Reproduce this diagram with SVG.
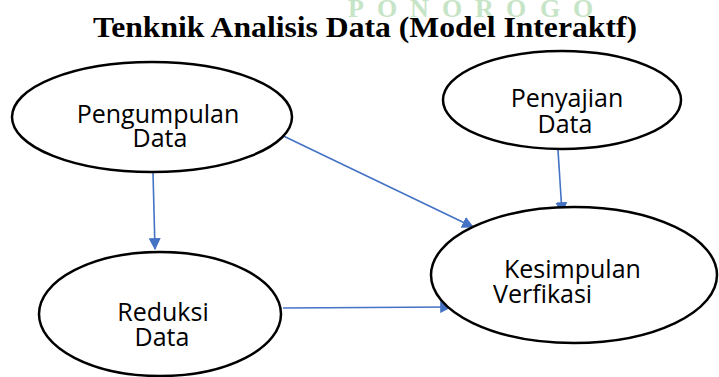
<svg xmlns="http://www.w3.org/2000/svg" width="719" height="377" viewBox="0 0 719 377">
  <style>
    .node ellipse { fill: #ffffff; stroke: #000000; stroke-width: 2.5; }
    .label { font-family: "Open Sans", "Liberation Sans", sans-serif; font-size: 25px; fill: #000000; }
    .edge { stroke: #4472C4; stroke-width: 1.6; fill: none; marker-end: url(#arrow); }
    .title { font-family: "Liberation Serif", "Times New Roman", serif; font-weight: bold; font-size: 30px; fill: #000000; }
    .mark { font-family: "Liberation Serif", "Times New Roman", serif; font-weight: bold; font-size: 26px; fill: #c6e4c6; }
  </style>
  <defs>
    <marker id="arrow" viewBox="0 0 10 10" refX="9" refY="5" markerWidth="12" markerHeight="12" markerUnits="userSpaceOnUse" orient="auto">
      <path d="M0,0 L10,5 L0,10 Z" fill="#4472C4"/>
    </marker>
  </defs>

  <rect width="719" height="377" fill="#ffffff"/>

  <!-- watermark and heading -->
  <text class="mark" x="348 377 410 442 475 506 540 573" y="17">PONOROGO</text>
  <text class="title" x="93" y="37" textLength="544" lengthAdjust="spacingAndGlyphs">Tenknik Analisis Data (Model Interaktf)</text>

  <!-- connectors -->
  <g id="edges">
    <line class="edge" x1="153" y1="173" x2="155" y2="249"/>
    <line class="edge" x1="273" y1="131" x2="473" y2="227"/>
    <line class="edge" x1="558" y1="150" x2="562" y2="213"/>
    <line class="edge" x1="283" y1="308" x2="451" y2="307"/>
  </g>

  <g id="pengumpulan" class="node">
    <ellipse cx="152" cy="117" rx="140" ry="55"/>
    <text class="label" x="158" y="123" text-anchor="middle">Pengumpulan</text>
    <text class="label" x="160" y="147" text-anchor="middle">Data</text>
  </g>

  <g id="penyajian" class="node">
    <ellipse cx="562" cy="100" rx="119" ry="49"/>
    <text class="label" x="567" y="107" text-anchor="middle">Penyajian</text>
    <text class="label" x="565" y="133" text-anchor="middle">Data</text>
  </g>

  <g id="reduksi" class="node">
    <ellipse cx="160" cy="314" rx="121" ry="62"/>
    <text class="label" x="163" y="321" text-anchor="middle">Reduksi</text>
    <text class="label" x="162" y="346" text-anchor="middle">Data</text>
  </g>

  <g id="kesimpulan" class="node">
    <ellipse cx="574" cy="275" rx="143" ry="68"/>
    <text class="label" x="504" y="278">Kesimpulan</text>
    <text class="label" x="493" y="303">Verfikasi</text>
  </g>
</svg>
